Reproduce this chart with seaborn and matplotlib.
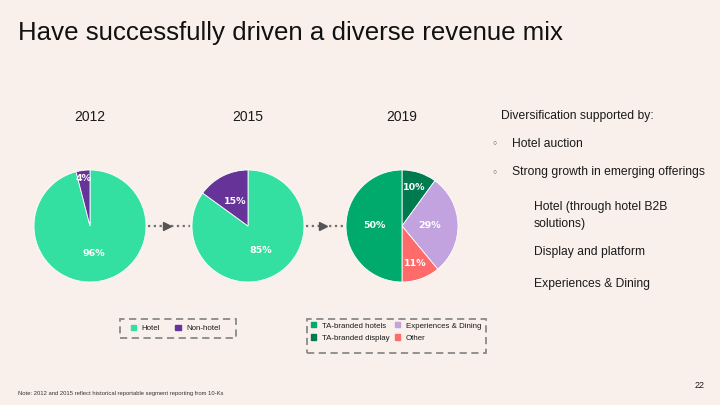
import numpy as np
import seaborn as sns
import matplotlib.pyplot as plt
from matplotlib.lines import Line2D
from matplotlib.patches import Patch, Rectangle

# revenue mix, share of total revenue (%)
years = ['2012', '2015', '2019']
seg_labels = ['Hotel', 'Non-hotel']
seg_2012 = [96, 4]
seg_2015 = [85, 15]
# 2019 wedges, clockwise from 12 o'clock
mix_labels = ['TA-branded display', 'Experiences & Dining', 'Other', 'TA-branded hotels']
mix_2019 = [10, 29, 11, 50]
legend2_order = ['TA-branded hotels', 'TA-branded display', 'Experiences & Dining', 'Other']

seg_colors = {'Hotel': '#34E0A1', 'Non-hotel': '#663399'}
mix_colors = {'TA-branded hotels': '#00AA6C', 'TA-branded display': '#007A4F',
              'Experiences & Dining': '#C2A3E0', 'Other': '#FF6B6B'}

bullets = ['Hotel auction', 'Strong growth in emerging offerings']
sub_items = ['Hotel (through hotel B2B\nsolutions)', 'Display and platform', 'Experiences & Dining']

bg = '#FAF0EB'
ink = '#1a1a1a'
W, H = 720, 405

sns.set_theme(style='white', rc={'figure.facecolor': bg, 'axes.facecolor': bg})
plt.rcParams['font.family'] = ['Liberation Sans', 'DejaVu Sans']

fig = plt.figure(figsize=(7.2, 4.05), dpi=100)


def fx(px):
    return px / W


def fy(py):
    return 1 - py / H


def draw_pie(cx, cy, values, colors, title, small_dist):
    box = 140  # pie radius 1 -> 56 px, default limits +-1.25
    ax = fig.add_axes([fx(cx - box / 2), fy(cy + box / 2), box / W, box / H])
    wedges, _, pcts = ax.pie(values, colors=colors, startangle=90, counterclock=False,
                             autopct=lambda p: f'{p:.0f}%', pctdistance=0.5,
                             wedgeprops=dict(edgecolor='white', linewidth=0.6),
                             textprops=dict(color='white', fontsize=6.8, fontweight='bold',
                                            family='DejaVu Sans'))
    ax.set_xlim(-1.25, 1.25)
    ax.set_ylim(-1.25, 1.25)
    for w, t, v in zip(wedges, pcts, values):
        if v < 15:
            a = np.deg2rad((w.theta1 + w.theta2) / 2)
            t.set_position((small_dist * np.cos(a), small_dist * np.sin(a)))
    fig.text(fx(cx), fy(117), title, ha='center', va='center', fontsize=10, color=ink)
    return ax


centers = [90, 248, 402]
cy = 226
draw_pie(centers[0], cy, seg_2012, [seg_colors[l] for l in seg_labels], years[0], 0.86)
draw_pie(centers[1], cy, seg_2015, [seg_colors[l] for l in seg_labels], years[1], 0.86)
draw_pie(centers[2], cy, mix_2019, [mix_colors[l] for l in mix_labels], years[2], 0.72)


def arrow(x0, x1, y):
    fig.add_artist(Line2D([fx(x0), fx(x1)], [fy(y), fy(y)], color='#707070',
                          linestyle=(0, (1, 1.6)), linewidth=1.6))
    fig.add_artist(Line2D([fx((x0 + x1) / 2 - 2)], [fy(y)], marker='>', markersize=6,
                          color='#555555', linestyle='none'))


arrow(centers[0] + 58, centers[1] - 58, cy)
arrow(centers[1] + 58, centers[2] - 58, cy)

# legends with dashed boxes
leg_kw = dict(frameon=False, fontsize=5.7, handlelength=0.65, handleheight=0.65,
              handletextpad=0.7, borderpad=0, borderaxespad=0, labelcolor=ink)
h1 = [Patch(color=seg_colors[l], label=l) for l in seg_labels]
leg1 = fig.legend(handles=h1, loc='center left', bbox_to_anchor=(fx(130.5), fy(328.5)),
                  ncol=2, columnspacing=2.0, **leg_kw)
h2 = [Patch(color=mix_colors[l], label=l) for l in legend2_order]
leg2 = fig.legend(handles=h2, loc='center left', bbox_to_anchor=(fx(311), fy(332)),
                  ncol=2, columnspacing=0.7, labelspacing=0.6, **leg_kw)
for x0, y0, x1, y1 in [(120, 319, 236, 338), (307, 319, 486, 353)]:
    fig.add_artist(Rectangle((fx(x0), fy(y1)), fx(x1) - fx(x0), fy(y0) - fy(y1),
                             fill=False, edgecolor='#8a8a8a', linewidth=1.3,
                             linestyle=(0, (4, 2.5)), transform=fig.transFigure))

# right-hand commentary
fig.text(fx(501), fy(116), 'Diversification supported by:', fontsize=8.7, va='center', color=ink)
for txt, y in zip(bullets, [144, 172.5]):
    fig.text(fx(495), fy(y), '○', fontsize=5, va='center', ha='center', color='#555555')
    fig.text(fx(511.5), fy(y), txt, fontsize=8.7, va='center', color=ink)
for txt, y in zip(sub_items, [215.5, 252.5, 283.5]):
    fig.text(fx(533.5), fy(y), txt, fontsize=8.7, va='center', color=ink, linespacing=1.45)

fig.text(fx(18), fy(33), 'Have successfully driven a diverse revenue mix', fontsize=18.6,
         va='center', color='#111111')
fig.text(fx(18), fy(393), 'Note: 2012 and 2015 reflect historical reportable segment reporting from 10-Ks',
         fontsize=4.2, va='center', color='#333333')
fig.text(fx(700), fy(385), '22', fontsize=6.5, va='center', ha='center', color=ink)

fig.savefig('out.png', dpi=100, facecolor=bg)
